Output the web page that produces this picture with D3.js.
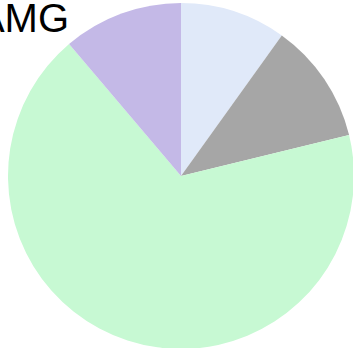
<!DOCTYPE html>
<html>
<head>
<meta charset="utf-8">
<script src="https://cdn.jsdelivr.net/npm/d3@7"></script>
<style>
  html, body { margin: 0; padding: 0; background: #fff; overflow: hidden; }
  svg { display: block; }
</style>
</head>
<body>
<svg id="chart" width="353" height="348"></svg>
<script>
// Share of each segment, clockwise from 12 o'clock (percent)
const categories = ["Segment A", "Segment B", "Segment C", "Segment D"];
const shares = [9.9, 11.3, 67.6, 11.2];
const colors = ["#e0e9f9", "#a6a6a6", "#c7f9d3", "#c4b9e7"];
const titleText = "AMG";

const width = 353, height = 348;
const cx = 181, cy = 176, radius = 173;

const svg = d3.select("#chart");

const pie = d3.pie().sort(null).value(d => d.value).startAngle(0).endAngle(2 * Math.PI);
const arc = d3.arc().innerRadius(0).outerRadius(radius);

const data = categories.map((c, i) => ({ name: c, value: shares[i], color: colors[i] }));

const g = svg.append("g").attr("transform", `translate(${cx},${cy})`);
g.selectAll("path")
  .data(pie(data))
  .join("path")
  .attr("d", arc)
  .attr("fill", d => d.data.color);

svg.append("text")
  .attr("x", 69)
  .attr("y", 32)
  .attr("text-anchor", "end")
  .attr("font-family", "Liberation Sans, Arial, sans-serif")
  .attr("font-size", 40)
  .attr("fill", "#000")
  .text(titleText);
</script>
</body>
</html>
